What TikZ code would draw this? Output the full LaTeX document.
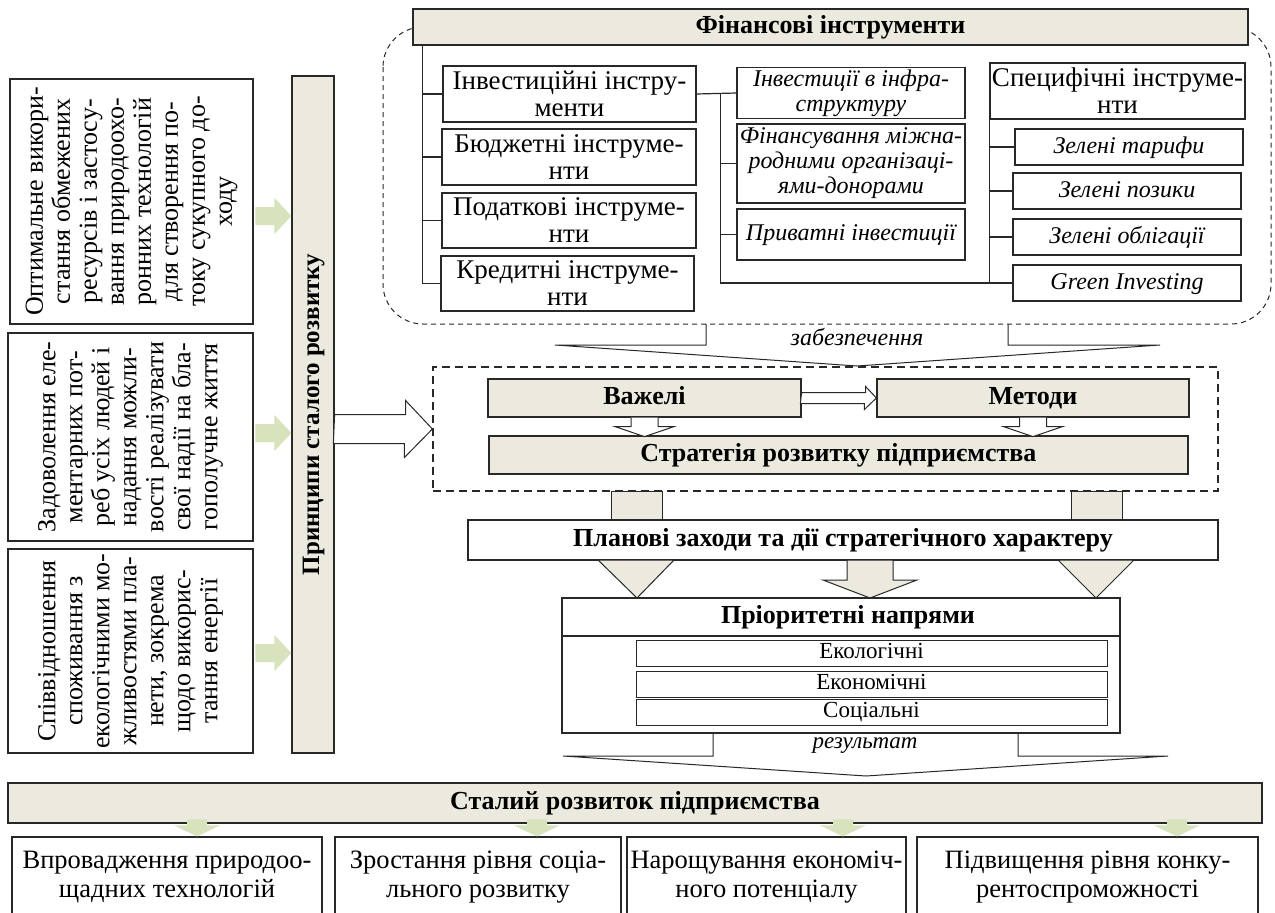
\documentclass[tikz,border=0pt]{standalone}
\usepackage{fontspec}
\setmainfont{Liberation Serif}
\usetikzlibrary{calc}

\definecolor{panel}{RGB}{236,233,223}
\definecolor{leaf}{RGB}{214,227,188}
\definecolor{ink}{RGB}{40,40,40}

\tikzset{
	box/.style={draw=ink, line width=1.2pt, fill=white, inner sep=2pt, align=center, font=\fontsize{27}{27}\selectfont},
	one/.style={text height=18pt, text depth=6pt},
	hbox/.style={box, one, fill=panel, font=\bfseries\fontsize{26}{27}\selectfont},
	ibox/.style={box, font=\itshape\fontsize{24}{25}\selectfont},
	side/.style={box, rotate=90, font=\fontsize{26}{27}\selectfont},
	wire/.style={draw=ink, line width=1.2pt},
	hollow/.style={draw=ink, line width=1pt, fill=white},
	block/.style={draw=ink, line width=1pt, fill=panel},
	gright/.pic={\fill[leaf] (-36,-9) -- (-17,-9) -- (-17,-18) -- (0,0) -- (-17,18) -- (-17,9) -- (-36,9) -- cycle;},
	gdown/.pic={\fill[leaf] (-10,-17) -- (10,-17) -- (10,-11) -- (23,-11) -- (0,0) -- (-23,-11) -- (-10,-11) -- cycle;}
}

\begin{document}
\begin{tikzpicture}[x=1pt,y=-1pt]
	\useasboundingbox (0,0) rectangle (1275,913);
	\clip (0,0) rectangle (1275,913);
	%%%%%%%%%%%%%%%%%%%
	%   principles    %
	%%%%%%%%%%%%%%%%%%%
		\node[side, minimum width=245, minimum height=243] (l1) at (131.5,201.5) {Оптимальне викори-\\стання обмежених\\ресурсів і застосу-\\вання природоохо-\\ронних технологій\\для створення по-\\току сукупного до-\\ходу};
		\node[side, minimum width=208, minimum height=245] (l2) at (130.5,437) {Задоволення еле-\\ментарних пот-\\реб усіх людей і\\надання можли-\\вості реалізувати\\свої надії на бла-\\гополучне життя};
		\node[side, minimum width=204, minimum height=245] (l3) at (130.5,651) {Співвідношення\\споживання з\\екологічними мо-\\жливостями пла-\\нети, зокрема\\щодо викорис-\\тання енергії};
		\node[side, one, fill=panel, font=\bfseries\fontsize{25}{27}\selectfont, minimum width=677, minimum height=42] (pr) at (313,414.5) {Принципи сталого розвитку};
		% green arrows
		\foreach \y in {216,433,653}
			\pic at (pr.north |- 0,\y) {gright};
	%%%%%%%%%%%%%%%%%%%
	%   instruments   %
	%%%%%%%%%%%%%%%%%%%
		\draw[ink, line width=1pt, dash pattern=on 5pt off 4pt, rounded corners=40pt] (383,27) rectangle (1271,324);
		\node[hbox, minimum width=835, minimum height=36] (fin) at (830.5,27) {Фінансові інструменти};
		% first column
			\node[box, minimum width=253, minimum height=56] (inv) at (569.5,94) {Інвестиційні інстру-\\менти};
			\node[box, minimum width=254, minimum height=56] (bud) at (569,157) {Бюджетні інструме-\\нти};
			\node[box, minimum width=254, minimum height=55] (tax) at (569,220.5) {Податкові інструме-\\нти};
			\node[box, minimum width=253, minimum height=55] (cred) at (567.5,283.5) {Кредитні інструме-\\нти};
			\coordinate (trunk) at ($(fin.south west)+(10,0)$);
			\draw[wire] (trunk) |- (cred.west);
			\foreach \n in {inv,bud,tax}
				\draw[wire] (trunk |- \n.west) -- (\n.west);
		% second column
			\node[ibox, minimum width=228, minimum height=50] (infra) at (851,93) {Інвестиції в інфра-\\структуру};
			\node[ibox, minimum width=228, minimum height=79] (fund) at (851,163.5) {Фінансування міжна-\\родними організаці-\\ями-донорами};
			\node[ibox, one, minimum width=228, minimum height=51] (priv) at (851,234.5) {Приватні інвестиції};
		% third column
			\node[box, minimum width=253, minimum height=56] (spec) at (1117.5,91) {Специфічні інструме-\\нти};
			\node[ibox, one, minimum width=228, minimum height=36] (tar) at (1129,147) {Зелені тарифи};
			\node[ibox, one, minimum width=228, minimum height=36] (loan) at (1127,191) {Зелені позики};
			\node[ibox, one, minimum width=228, minimum height=36] (bond) at (1127,237) {Зелені облігації};
			\node[ibox, one, minimum width=228, minimum height=36] (ginv) at (1127,283) {Green Investing};
		% links
			\draw[wire] (inv.east) -- (infra.west);
			\coordinate (mjoin) at ($(inv.east)!0.6!(infra.west)$);
			\draw[wire] (mjoin) |- (ginv.west);
			\foreach \n in {fund,priv}
				\draw[wire] (mjoin |- \n.west) -- (\n.west);
			\draw[wire] (spec.south west) -- (spec.south west |- ginv.west);
			\foreach \n in {tar,loan,bond}
				\draw[wire] (spec.south west |- \n.west) -- (\n.west);
		% callout
			\node[font=\itshape\fontsize{24}{25}\selectfont, inner sep=0pt] (zab) at (857,337) {забезпечення};
			\draw[wire, line width=1pt] (706,324) -- (706,345) -- (555,345) -- (857,366) -- (1160,345) -- (1008,345) -- (1008,324);
	%%%%%%%%%%%%%%%%%%%
	%    strategy     %
	%%%%%%%%%%%%%%%%%%%
		\node[draw=ink, line width=1.2pt, dash pattern=on 8pt off 5pt, minimum width=785, minimum height=124] (core) at (825.5,429) {};
		\node[hbox, minimum width=313, minimum height=38] (lev) at (644.5,398) {Важелі};
		\node[hbox, minimum width=312, minimum height=38] (meth) at (1033,398) {Методи};
		\node[hbox, minimum width=699, minimum height=38] (strat) at (838.5,455) {Стратегія розвитку підприємства};
		% hollow arrows
			\draw[hollow] (pr.south |- core.west) ++(0,-14.5) -- ++(71,0) -- ++(0,-14) -- (core.west) -- ++(-28,28.5) -- ++(0,-14) -- ++(-71,0) -- cycle;
			\draw[hollow] (lev.east) ++(0,-5.5) -- ++(64,0) -- ++(0,-6) -- (meth.west) -- ++(-12,11.5) -- ++(0,-6) -- ++(-64,0) -- cycle;
			\foreach \n in {lev,meth}
				\draw[hollow] (\n.south) ++(-13.5,0) -- ++(0,9) -- ++(-16,0) -- ++(29.5,10) -- ++(29.5,-10) -- ++(-16,0) -- ++(0,-9);
		% stubs
			\draw[block] (611,491) rectangle (662,522);
			\draw[block] (1071,491) rectangle (1122,522);
		\node[box, one, font=\bfseries\fontsize{26}{27}\selectfont, minimum width=750, minimum height=40] (plan) at (843,540) {Планові заходи та дії стратегічного характеру};
		% block arrows
			\draw[block] (598,560) -- (674,560) -- (637,598) -- cycle;
			\draw[block] (847,560) -- (893,560) -- (893,580) -- (917,580) -- (870,598) -- (823,580) -- (847,580) -- cycle;
			\draw[block] (1058,560) -- (1134,560) -- (1096,598) -- cycle;
	%%%%%%%%%%%%%%%%%%%
	%   priorities    %
	%%%%%%%%%%%%%%%%%%%
		\node[box, minimum width=558, minimum height=135] (prio) at (841,665.5) {};
		\node[one, font=\bfseries\fontsize{26}{27}\selectfont] (priot) at (848,617) {Пріоритетні напрями};
		\draw[wire] (prio.west |- 0,636) -- (prio.east |- 0,636);
		\foreach \n/\y/\t in {eco/653/Екологічні,econ/684/Економічні,soc/712/Соціальні}
			\node[box, line width=1pt, inner sep=0pt, text height=16pt, text depth=5pt, font=\fontsize{23}{24}\selectfont, minimum width=471, minimum height=26] (\n) at (871.5,\y) {\t};
		% callout
			\node[font=\itshape\fontsize{23}{24}\selectfont, inner sep=0pt] (res) at (865,746) {результат};
			\draw[wire, line width=1pt] (713,733) -- (713,756) -- (563,756) -- (866,776) -- (1168,756) -- (1018,756) -- (1018,733);
	%%%%%%%%%%%%%%%%%%%
	%     results     %
	%%%%%%%%%%%%%%%%%%%
		\node[hbox, minimum width=1254, minimum height=40] (stal) at (635,803) {Сталий розвиток підприємства};
		\node[box, inner xsep=0pt, font=\fontsize{26.5}{29}\selectfont, minimum width=310, minimum height=80] (b1) at (167,877) {Впровадження природоо-\\щадних технологій};
		\node[box, inner xsep=0pt, font=\fontsize{26.5}{29}\selectfont, minimum width=286, minimum height=80] (b2) at (478,877) {Зростання рівня соціа-\\льного розвитку};
		\node[box, inner xsep=0pt, font=\fontsize{26.5}{29}\selectfont, minimum width=279, minimum height=80] (b3) at (766.5,877) {Нарощування економіч-\\ного потенціалу};
		\node[box, inner xsep=0pt, font=\fontsize{26.5}{29}\selectfont, minimum width=341, minimum height=80] (b4) at (1087.5,877) {Підвищення рівня конку-\\рентоспроможності};
		\foreach \x/\n in {197/b1,537/b2,843/b3,1177/b4}
			\pic at (\n.north -| \x,0) {gdown};
\end{tikzpicture}
\end{document}
